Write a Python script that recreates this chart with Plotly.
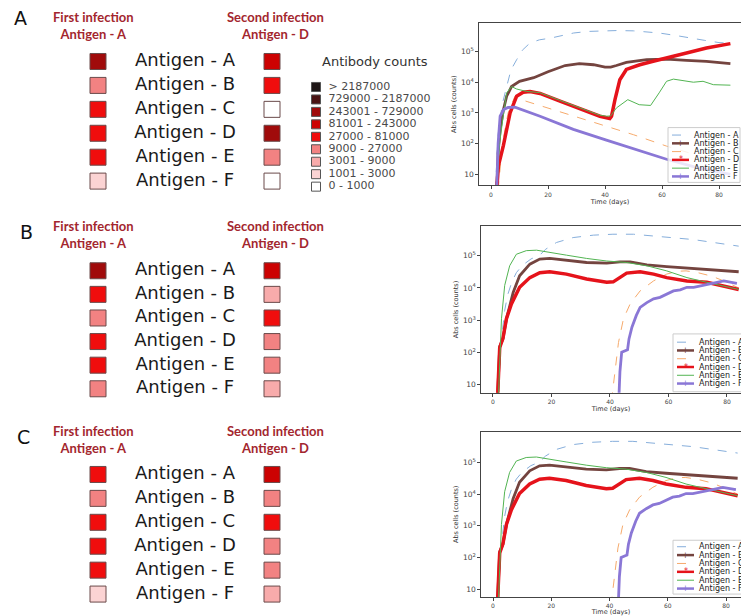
import numpy as np
import plotly.graph_objects as go

W, H = 741, 616

antigens = ["Antigen - A", "Antigen - B", "Antigen - C", "Antigen - D", "Antigen - E", "Antigen - F"]

# ---- antibody count classes -------------------------------------------------
class_edges = [1000, 3000, 9000, 27000, 81000, 243000, 729000, 2187000]
class_labels = ["0 - 1000", "1001 - 3000", "3001 - 9000", "9000 - 27000", "27000 - 81000",
                "81001 - 243000", "243001 - 729000", "729000 - 2187000", "> 2187000"]
class_colors = ["#ffffff", "#fbd3d3", "#f8abab", "#f28282", "#f00d0d", "#cc0202",
                "#a00b0b", "#4a1313", "#1e1616"]

# ---- representative antibody counts per antigen (first / second infection) ----
countsA_first = [480000, 15000, 50000, 60000, 60000, 2000]
countsA_second = [150000, 50000, 500, 400000, 15000, 600]
countsB_first = [450000, 60000, 15000, 60000, 60000, 12000]
countsB_second = [180000, 6000, 60000, 12000, 15000, 5000]
countsC_first = [60000, 15000, 60000, 60000, 60000, 2000]
countsC_second = [180000, 15000, 60000, 12000, 15000, 7000]

# ---- simulated antibody cell counts over time ---------------------------------
# Scenario A
a_days_A = [1.5, 2.5, 3.2, 4, 5.5, 7, 9, 11, 13.7, 17, 20.7, 25, 29, 34, 38, 44, 50, 55, 59, 65, 70, 75, 80, 84]
a_cnt_A = [3, 200, 630, 2000, 7200, 2.5e4, 5.4e4, 1.1e5, 1.9e5, 2.4e5, 2.7e5, 3.4e5, 4.0e5, 4.5e5, 4.7e5,
           4.8e5, 4.7e5, 4.4e5, 4.0e5, 3.3e5, 2.7e5, 2.3e5, 1.95e5, 1.85e5]
a_days_B = [2, 2.5, 3.2, 4.3, 5.5, 7.2, 10, 15, 20, 26, 31, 36, 40, 42, 44, 47.5, 54.6, 61.6, 68.6, 75.6, 84]
a_cnt_B = [3, 50, 290, 1200, 3500, 7200, 1.07e4, 1.4e4, 2.2e4, 3.5e4, 4.0e4, 3.7e4, 3.1e4, 3.1e4, 3.5e4,
           4.4e4, 5.4e4, 5.6e4, 5.1e4, 4.8e4, 4.0e4]
a_days_C = [2.5, 4, 6, 8.4, 10, 20, 30, 40, 50, 61.6, 72, 84]
a_cnt_C = [3, 100, 1000, 3500, 2800, 1450, 740, 380, 195, 83, 42, 20]
a_days_D = [2, 2.6, 4.3, 5.5, 6.7, 9, 11.3, 13.7, 17.2, 24.2, 31.2, 38.2, 41.7, 42.3, 43.5, 45.2, 47.5,
            52.2, 56.9, 61.6, 68.6, 75.6, 84]
a_cnt_D = [3, 19, 83, 290, 1000, 3500, 4700, 5000, 4300, 2400, 1350, 780, 660, 780, 2700, 1.2e4, 2.6e4,
           3.7e4, 4.8e4, 6.0e4, 8.9e4, 1.3e5, 1.8e5]
a_days_E = [2, 3, 4.3, 5.5, 7.2, 9, 12.5, 17, 24, 31, 38, 40.5, 42, 44, 48, 52, 56, 59, 61.6, 64, 67.4,
            71, 74.4, 78, 84]
a_cnt_E = [3, 100, 800, 4500, 7200, 6000, 5000, 4600, 2600, 1450, 850, 780, 800, 1450, 2700, 1850, 1750,
           4500, 1.07e4, 1.26e4, 1.12e4, 1.0e4, 1.07e4, 8300, 8000]
a_days_F = [2, 2.5, 3.2, 4.5, 6, 8.4, 17.2, 28.9, 40.5, 52.2, 61.6, 72, 84]
a_cnt_F = [3, 100, 780, 1300, 1500, 1550, 780, 290, 130, 58, 31, 17, 10]

# Scenarios B and C
b_days_A = [1.5, 2.5, 3, 4, 5, 6.5, 8, 10, 13, 16, 18, 21.7, 27.4, 34.3, 41, 48, 54.9, 61.7, 68.6, 75.4,
            82.3, 84]
b_cnt_A = [3, 50, 300, 2000, 6000, 1.6e4, 3e4, 5e4, 8e4, 1.05e5, 1.6e5, 2.6e5, 3.7e5, 4.4e5, 4.7e5,
           4.7e5, 4.2e5, 3.7e5, 3.2e5, 2.6e5, 2.1e5, 2.0e5]
b_days_B = [1.5, 2.3, 3.4, 4.6, 6.9, 9.1, 12.6, 16, 19.4, 25.1, 32, 38.9, 43.4, 46.9, 52.6, 59.4, 66.3,
            73.1, 80, 84]
b_cnt_B = [3, 150, 260, 1100, 7200, 2.4e4, 5.5e4, 7.9e4, 8.3e4, 7.4e4, 6.2e4, 5.9e4, 6.5e4, 6.5e4,
           5.2e4, 4.6e4, 4.1e4, 3.7e4, 3.4e4, 3.2e4]
b_days_C = [40.5, 41.7, 42.9, 44.6, 46.9, 50.3, 54.9, 59.4, 63, 66, 70, 75, 80, 84]
b_cnt_C = [3, 30, 200, 1100, 3200, 8100, 1.66e4, 2.7e4, 3.3e4, 3.4e4, 3.0e4, 2.3e4, 1.5e4, 1.0e4]
b_days_D = [1.5, 2.3, 3.4, 4.6, 6.3, 9.1, 12.6, 16, 19.4, 25.1, 32, 38.9, 41.1, 43.4, 45.7, 50.3, 54.9,
            59.4, 66.3, 73.1, 80, 84]
b_cnt_D = [3, 140, 270, 1100, 3200, 1.05e4, 2.1e4, 3.0e4, 3.2e4, 2.7e4, 1.9e4, 1.5e4, 1.55e4, 2.1e4,
           2.9e4, 3.2e4, 2.7e4, 2.1e4, 1.65e4, 1.5e4, 1.05e4, 9000]
b_days_E = [1.8, 2.9, 4, 5.7, 8, 11.4, 14.9, 18.3, 25.1, 32, 38.9, 45.7, 52.6, 59.4, 66.3, 73.1, 80, 84]
b_cnt_E = [3, 1100, 1.2e4, 4.9e4, 1.12e5, 1.45e5, 1.5e5, 1.35e5, 1.05e5, 8.3e4, 6.9e4, 6.2e4, 4.9e4,
           3.4e4, 2.1e4, 1.5e4, 1.05e4, 9000]
b_days_F = [43, 43.4, 44, 45.1, 46, 46.5, 47.5, 49, 50.3, 52.6, 54.9, 57.1, 59.4, 61.7, 64, 66.3, 68.6,
            70.9, 73, 76.6, 78.9, 81, 83.4]
b_cnt_F = [3, 25, 100, 110, 120, 260, 600, 1400, 2500, 3500, 4600, 5100, 6500, 8100, 8700, 1.05e4,
           1.05e4, 1.15e4, 1.23e4, 1.48e4, 1.65e4, 1.55e4, 1.4e4]

series_A = [(a_days_A, a_cnt_A), (a_days_B, a_cnt_B), (a_days_C, a_cnt_C),
            (a_days_D, a_cnt_D), (a_days_E, a_cnt_E), (a_days_F, a_cnt_F)]
series_B = [(b_days_A, b_cnt_A), (b_days_B, b_cnt_B), (b_days_C, b_cnt_C),
            (b_days_D, b_cnt_D), (b_days_E, b_cnt_E), (b_days_F, b_cnt_F)]

line_colors = ["#86aedb", "#74443f", "#f6aa6c", "#e5131b", "#52b452", "#8a77d6"]
line_widths = [1, 2.8, 1, 3.5, 1, 2.8]
line_dash = ["dash", "solid", "dash", "solid", "solid", "solid"]
legend_marks = ["", "+", "", "*", "", "+"]


def fx(px):
    return px / W


def fy(py):
    return 1 - py / H


fig = go.Figure()

# discrete colour scale for the count classes
n_cls = len(class_colors)
cscale = []
for k, c in enumerate(class_colors):
    cscale.append([k / n_cls, c])
    cscale.append([(k + 1) / n_cls, c])

panels_left = [
    ("x", "y", countsA_first, countsA_second),
    ("x2", "y2", countsB_first, countsB_second),
    ("x3", "y3", countsC_first, countsC_second),
]
rows = list(range(len(antigens)))
for xa, ya, first, second in panels_left:
    cls = np.digitize(first + second, class_edges)
    fig.add_trace(go.Scatter(
        x=[0] * 6 + [1] * 6, y=rows + rows, mode="markers", xaxis=xa, yaxis=ya,
        marker=dict(symbol="square", size=16, color=cls, colorscale=cscale,
                    cmin=-0.5, cmax=n_cls - 0.5, line=dict(color="#6a4a4a", width=1)),
        hoverinfo="skip"))
    fig.add_trace(go.Scatter(
        x=[0.5] * 6, y=rows, mode="text", text=antigens, xaxis=xa, yaxis=ya,
        textfont=dict(family="DejaVu Sans", size=18, color="#1a1a1a"), hoverinfo="skip"))

# antibody count classes key
key_idx = list(range(n_cls))[::-1]
fig.add_trace(go.Scatter(
    x=[0] * n_cls, y=list(range(n_cls)), mode="markers", xaxis="x4", yaxis="y4",
    marker=dict(symbol="square", size=9, color=key_idx, colorscale=cscale,
                cmin=-0.5, cmax=n_cls - 0.5, line=dict(color="#555555", width=1)),
    hoverinfo="skip"))
fig.add_trace(go.Scatter(
    x=[0.9] * n_cls, y=list(range(n_cls)), mode="text", xaxis="x4", yaxis="y4",
    text=[class_labels[k] for k in key_idx], textposition="middle right",
    textfont=dict(family="DejaVu Sans", size=11, color="#4a4a4a"), hoverinfo="skip"))

# time courses
line_panels = [("x5", "y5", series_A), ("x6", "y6", series_B), ("x7", "y7", series_B)]
for xa, ya, series in line_panels:
    for i, (d, c) in enumerate(series):
        fig.add_trace(go.Scatter(
            x=d, y=c, mode="lines", xaxis=xa, yaxis=ya, name=antigens[i],
            line=dict(color=line_colors[i], width=line_widths[i], dash=line_dash[i]),
            hoverinfo="skip"))

hidden = dict(visible=False, fixedrange=True)
layout = dict(
    width=W, height=H, margin=dict(l=0, r=0, t=0, b=0),
    paper_bgcolor="white", plot_bgcolor="white", showlegend=False,
    font=dict(family="DejaVu Sans"),
)

left_rows = [(49.7, 193.7), (259.8, 401.9), (464, 608)]
for k, (t, b) in enumerate(left_rows):
    sx = "" if k == 0 else str(k + 1)
    layout["xaxis" + sx] = dict(hidden, domain=[0, fx(440)], range=[-98 / 174, 342 / 174],
                                anchor="y" + sx)
    layout["yaxis" + sx] = dict(hidden, domain=[fy(b), fy(t)], range=[5.5, -0.5],
                                anchor="x" + sx)

layout["xaxis4"] = dict(hidden, domain=[fx(302), fx(442)], range=[-1, 9], anchor="y4")
layout["yaxis4"] = dict(hidden, domain=[fy(193.5), fy(81)], range=[8.5, -0.5], anchor="x4")

tickfont = dict(family="DejaVu Sans", size=6, color="#444444")
titlefont = dict(family="DejaVu Sans", size=6.5, color="#333333")
line_geo = [
    # left px, top px, bottom px, x range, y range
    (479, 23, 186, [-4.21, 87.72], [0.64, 5.93]),
    (481, 227, 394, [-4.10, 84.79], [0.74, 5.92]),
    (481, 433, 599, [-4.12, 85.15], [0.75, 5.98]),
]
for k, (lft, top, bot, xr, yr) in enumerate(line_geo):
    sx = str(k + 5)
    layout["xaxis" + sx] = dict(
        domain=[fx(lft), 1], range=xr, anchor="y" + sx, tickvals=[0, 20, 40, 60, 80],
        showline=True, mirror=True, linecolor="#444444", linewidth=1, ticks="outside",
        ticklen=3, tickcolor="#444444", showgrid=False, zeroline=False, tickfont=tickfont,
        title=dict(text="Time (days)", font=titlefont, standoff=2), fixedrange=True)
    layout["yaxis" + sx] = dict(
        domain=[fy(bot), fy(top)], type="log", range=yr, dtick=1, exponentformat="power",
        anchor="x" + sx, showline=True, mirror=False, linecolor="#444444", linewidth=1,
        ticks="outside", ticklen=3, tickcolor="#444444", showgrid=False, zeroline=False,
        tickfont=tickfont, title=dict(text="Abs cells (counts)", font=titlefont, standoff=3),
        fixedrange=True)

annotations = []
shapes = []


def note(text, px, py, font, xanchor="center", yanchor="middle"):
    annotations.append(dict(text=text, x=fx(px), y=fy(py), xref="paper", yref="paper",
                            showarrow=False, xanchor=xanchor, yanchor=yanchor, font=font))


# panel letters and infection headers
head_font = dict(family="Lato", size=13, color="#a3262e")
letter_font = dict(family="DejaVu Sans", size=19, color="#111111")
for letter, (lx, ly), hy in [("A", (20, 18), 25.5), ("B", (27, 233), 235.5), ("C", (23, 438), 440.5)]:
    note(letter, lx, ly, letter_font)
    note("<b>First infection</b><br><b>Antigen - A</b>", 93, hy, head_font)
    note("<b>Second infection</b><br><b>Antigen - D</b>", 275, hy, head_font)

note("Antibody counts", 375, 62, dict(family="DejaVu Sans", size=13, color="#333333"))

# series keys inside each time-course panel
leg_geo = [
    # box left, box top, box bottom, box right, first entry y, spacing
    (668, 128, 183, 740, 135.5, 8.3),
    (673, 335, 393, 760, 343.3, 8.3),
    (673, 542, 596, 760, 548.5, 8.4),
]
for bl, bt, bb, br, ey, sp in leg_geo:
    shapes.append(dict(type="rect", xref="paper", yref="paper", x0=fx(bl), x1=fx(br),
                       y0=fy(bb), y1=fy(bt), layer="above", fillcolor="rgba(255,255,255,0.82)",
                       line=dict(color="#cccccc", width=1)))
    for i, name in enumerate(antigens):
        yy = ey + i * sp
        shapes.append(dict(type="line", xref="paper", yref="paper", x0=fx(bl + 4), x1=fx(bl + 21),
                           y0=fy(yy), y1=fy(yy), layer="above",
                           line=dict(color=line_colors[i], width=min(line_widths[i], 2.5),
                                     dash=line_dash[i])))
        if legend_marks[i]:
            note(legend_marks[i], bl + 12.5, yy,
                 dict(family="DejaVu Sans", size=8, color=line_colors[i]))
        note(name, bl + 24, yy, dict(family="DejaVu Sans", size=8, color="#222222"),
             xanchor="left")

layout["annotations"] = annotations
layout["shapes"] = shapes
fig.update_layout(**layout)

fig.write_html("out.html")
